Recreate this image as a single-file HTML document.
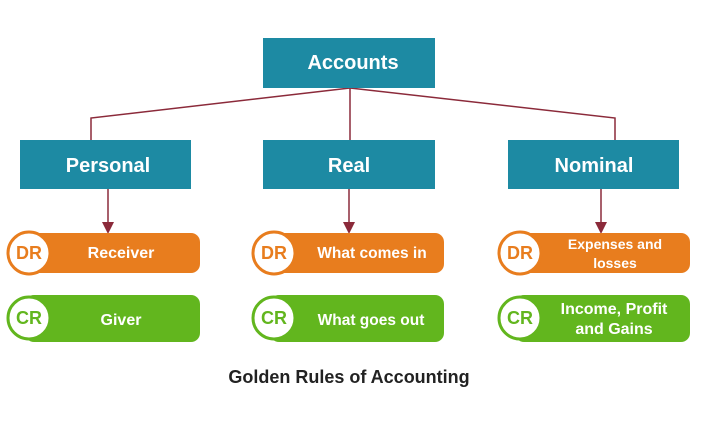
<!DOCTYPE html>
<html><head><style>
body{margin:0;width:716px;height:420px;background:#fff;overflow:hidden;font-family:"Liberation Sans",sans-serif}
</style></head><body>
<svg width="716" height="420" xmlns="http://www.w3.org/2000/svg" font-family="Liberation Sans, sans-serif">
<defs><marker id="a" markerWidth="8" markerHeight="8" refX="4" refY="4" orient="auto"><path d="M0,0 L8,4 L0,8 z" fill="#8b2a3a"/></marker></defs>
<g stroke="#8b2a3a" stroke-width="1.5" fill="none">
<polyline points="350,88 91,118 91,140"/>
<line x1="350" y1="88" x2="350" y2="140"/>
<polyline points="350,88 615,118 615,140"/>
<line x1="108" y1="189" x2="108" y2="228" marker-end="url(#a)"/>
<line x1="349" y1="189" x2="349" y2="228" marker-end="url(#a)"/>
<line x1="601" y1="189" x2="601" y2="228" marker-end="url(#a)"/>
</g>
<g fill="#1d8aa3">
<rect x="263" y="38" width="172" height="50"/>
<rect x="20" y="140" width="171" height="49"/>
<rect x="263" y="140" width="172" height="49"/>
<rect x="508" y="140" width="171" height="49"/>
</g>
<g fill="#fff" font-size="20" text-anchor="middle" font-weight="bold">
<text x="353" y="69">Accounts</text>
<text x="108" y="172">Personal</text>
<text x="349" y="172">Real</text>
<text x="594" y="172">Nominal</text>
</g>
<g>
<rect x="25" y="233" width="175" height="40" rx="9" fill="#e87d1e"/>
<rect x="25" y="295" width="175" height="47" rx="9" fill="#62b61e"/>
<rect x="270" y="233" width="174" height="40" rx="9" fill="#e87d1e"/>
<rect x="270" y="295" width="174" height="47" rx="9" fill="#62b61e"/>
<rect x="515" y="233" width="175" height="40" rx="9" fill="#e87d1e"/>
<rect x="515" y="295" width="175" height="47" rx="9" fill="#62b61e"/>
</g>
<g fill="#fff" stroke-width="3">
<circle cx="29" cy="253" r="21" stroke="#e87d1e"/>
<circle cx="29" cy="318" r="21" stroke="#62b61e"/>
<circle cx="274" cy="253" r="21" stroke="#e87d1e"/>
<circle cx="274" cy="318" r="21" stroke="#62b61e"/>
<circle cx="520" cy="253" r="21" stroke="#e87d1e"/>
<circle cx="520" cy="318" r="21" stroke="#62b61e"/>
</g>
<g font-size="18" text-anchor="middle" font-weight="bold">
<text x="29" y="259" fill="#e87d1e">DR</text>
<text x="29" y="324" fill="#62b61e">CR</text>
<text x="274" y="259" fill="#e87d1e">DR</text>
<text x="274" y="324" fill="#62b61e">CR</text>
<text x="520" y="259" fill="#e87d1e">DR</text>
<text x="520" y="324" fill="#62b61e">CR</text>
</g>
<g fill="#fff" font-size="16" text-anchor="middle" font-weight="bold">
<text x="121" y="258">Receiver</text>
<text x="121" y="325">Giver</text>
<text x="372" y="258" font-size="15.5">What comes in</text>
<text x="371" y="325" font-size="15.5">What goes out</text>
<text x="615" y="249" font-size="14">Expenses and</text>
<text x="615" y="268" font-size="14">losses</text>
<text x="614" y="314">Income, Profit</text>
<text x="614" y="334">and Gains</text>
</g>
<text x="349" y="383" font-size="18" font-weight="bold" fill="#222" text-anchor="middle">Golden Rules of Accounting</text>
</svg>
</body></html>
